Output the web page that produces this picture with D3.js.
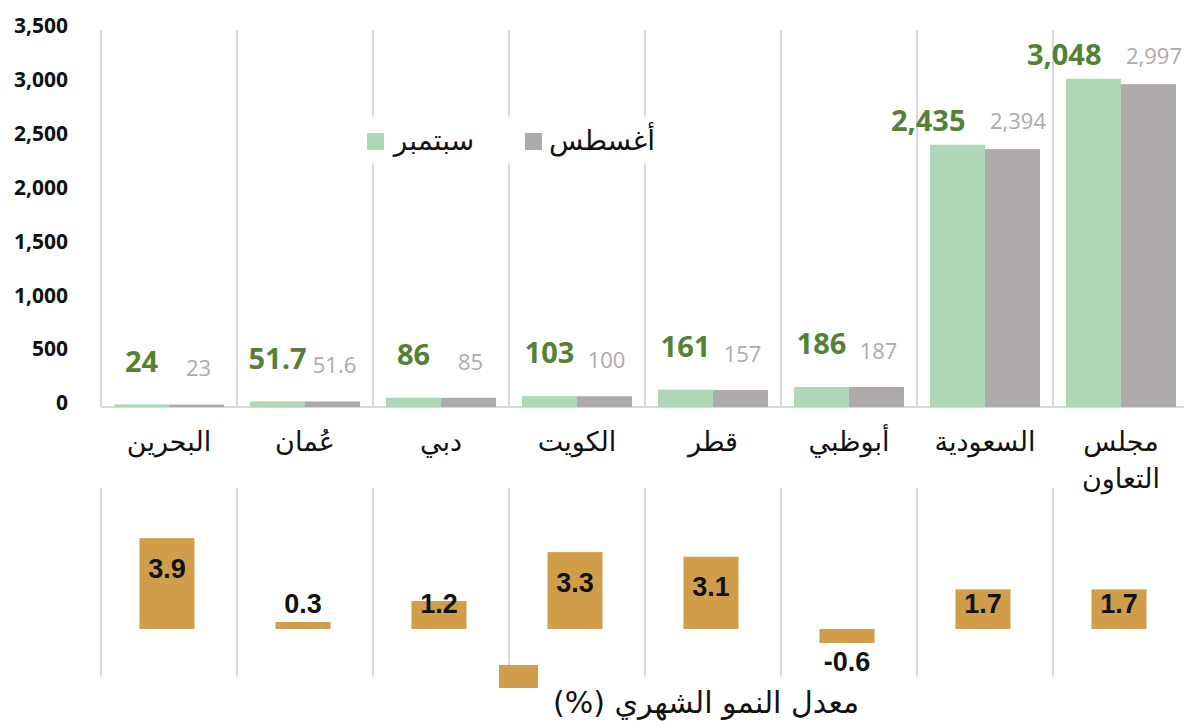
<html>
    <head>
        <meta charset="utf-8">
        <title>GCC chart</title>
        <script src="https://d3js.org/d3.v7.min.js"></script>
    </head>

    <body>
        <svg id="chart" height="721" width="1184"></svg>
        <script>
            // data
            const categories = ["البحرين", "عُمان", "دبي", "الكويت", "قطر", "أبوظبي", "السعودية", "مجلس التعاون"];
            const september = [24, 51.7, 86, 103, 161, 186, 2435, 3048];
            const august = [23, 51.6, 85, 100, 157, 187, 2394, 2997];
            const growth = [3.9, 0.3, 1.2, 3.3, 3.1, -0.6, 1.7, 1.7];
            const yTicks = [0, 500, 1000, 1500, 2000, 2500, 3000, 3500];
            const seriesNames = ["سبتمبر", "أغسطس"];
            const growthTitle = "معدل النمو الشهري (%)";

            const svg = d3.select("#chart");
            const green = "#aed8b8", grey = "#aeaaaa", gold = "#d09e4a";
            const gridColor = "#d9d9d9";
            const arFont = "DejaVu Sans";

            const x = d3.scaleBand().domain(categories).range([101, 1189]);
            const xInner = d3.scaleBand().domain(["sep", "aug"]).range([0, x.bandwidth()])
                            .paddingInner(0).paddingOuter(0.236);
            const y = d3.scaleLinear().domain([0, 3500]).range([407, 30]);
            const y2 = d3.scaleLinear().domain([-1, 4]).range([652.3, 535.8]);

            const fmt = d3.format(",");

            // vertical separators, top chart
            svg.append("g").selectAll("line").data(categories)
                .join("line")
                .attr("x1", d => x(d)).attr("x2", d => x(d))
                .attr("y1", y(3500)).attr("y2", y(0))
                .style("stroke", gridColor).style("stroke-width", 2);

            // baseline
            svg.append("line")
                .attr("x1", x.range()[0]).attr("x2", 1184)
                .attr("y1", y(0)).attr("y2", y(0))
                .style("stroke", gridColor).style("stroke-width", 2);

            // y axis labels
            const yAxis = d3.axisLeft(y).tickValues(yTicks).tickFormat(fmt).tickSize(0).tickPadding(0);
            const yG = svg.append("g").attr("transform", "translate(68,-4)").call(yAxis);
            yG.select(".domain").remove();
            yG.selectAll("text")
                .style("font-family", "Open Sans").style("font-weight", "bold")
                .style("font-size", "21px").style("fill", "#111");

            // bars
            const groups = svg.append("g").selectAll("g").data(categories)
                .join("g").attr("transform", d => `translate(${x(d)},0)`);

            groups.append("rect")
                .attr("x", xInner("sep")).attr("width", xInner.bandwidth())
                .attr("y", (d, i) => y(september[i]))
                .attr("height", (d, i) => y(0) - y(september[i]))
                .style("fill", green);

            groups.append("rect")
                .attr("x", xInner("aug")).attr("width", xInner.bandwidth())
                .attr("y", (d, i) => y(august[i]))
                .attr("height", (d, i) => y(0) - y(august[i]))
                .style("fill", grey);

            // value labels
            groups.append("text")
                .attr("x", (d, i) => september[i] >= 1000 ? xInner("sep") + xInner.bandwidth() / 2 + 8 : xInner("sep") + xInner.bandwidth() / 2)
                .attr("y", (d, i) => y(september[i]) - (september[i] >= 1000 ? 24 : 43))
                .attr("dy", "0.36em")
                .attr("text-anchor", (d, i) => september[i] >= 1000 ? "end" : "middle")
                .style("font-family", "Open Sans").style("font-weight", "bold")
                .style("font-size", "29px").style("fill", "#548235")
                .text((d, i) => fmt(september[i]));

            groups.append("text")
                .attr("x", (d, i) => august[i] >= 1000 ? xInner("aug") + 5 : xInner("aug") + xInner.bandwidth() / 2 + 2)
                .attr("y", (d, i) => y(august[i]) - (august[i] >= 1000 ? 28 : 36))
                .attr("dy", "0.36em")
                .attr("text-anchor", (d, i) => august[i] >= 1000 ? "start" : "middle")
                .style("font-family", "Open Sans")
                .style("font-size", "22px").style("fill", grey)
                .text((d, i) => fmt(august[i]));

            // category labels (wrap the two-word one)
            groups.append("text")
                .attr("x", x.bandwidth() / 2)
                .attr("y", 443)
                .attr("text-anchor", "middle")
                .attr("direction", "rtl")
                .style("font-family", arFont)
                .style("font-size", "27px").style("fill", "#111")
                .each(function(d) {
                    const words = d.split(" ");
                    d3.select(this).selectAll("tspan").data(words)
                        .join("tspan")
                        .attr("x", x.bandwidth() / 2)
                        .attr("dy", (w, j) => j == 0 ? "0.3em" : "1.38em")
                        .text(w => w);
                });

            // legend
            const legend = svg.append("g");
            legend.append("rect").attr("x", 358).attr("y", 116).attr("width", 312).attr("height", 48)
                .style("fill", "white");
            const legendItems = [
                { name: seriesNames[0], color: green, sx: 367, tx: 434 },
                { name: seriesNames[1], color: grey, sx: 525, tx: 602 }
            ];
            legendItems.forEach(item => {
                legend.append("rect").attr("x", item.sx).attr("y", 133).attr("width", 17).attr("height", 17)
                    .style("fill", item.color);
                legend.append("text").attr("x", item.tx).attr("y", 140)
                    .attr("dy", "0.35em").attr("text-anchor", "middle").attr("direction", "rtl")
                    .style("font-family", arFont).style("font-size", "28px").style("fill", "#111")
                    .text(item.name);
            });

            // lower chart separators
            svg.append("g").selectAll("line").data(categories)
                .join("line")
                .attr("x1", d => x(d)).attr("x2", d => x(d))
                .attr("y1", 488).attr("y2", 676)
                .style("stroke", gridColor).style("stroke-width", 2);

            const lower = svg.append("g").selectAll("g").data(categories)
                .join("g").attr("transform", d => `translate(${x(d)},0)`);

            const gw = xInner.bandwidth();
            lower.append("rect")
                .attr("x", x.bandwidth() / 2 - gw / 2 - 2).attr("width", gw)
                .attr("y", (d, i) => y2(Math.max(0, growth[i])))
                .attr("height", (d, i) => Math.abs(y2(growth[i]) - y2(0)))
                .style("fill", gold);

            lower.append("text")
                .attr("x", x.bandwidth() / 2 - 2)
                .attr("y", (d, i) => growth[i] < 0 ? y2(growth[i]) + 18 : Math.min(y2(growth[i]) + 30, 603))
                .attr("dy", "0.36em")
                .attr("text-anchor", "middle")
                .style("font-family", "Liberation Sans").style("font-weight", "bold")
                .style("font-size", "27px").style("fill", "#111")
                .text((d, i) => growth[i].toFixed(1));

            // lower legend
            svg.append("rect").attr("x", 499).attr("y", 665).attr("width", 39).attr("height", 23)
                .style("fill", gold);
            svg.append("text").attr("x", 706).attr("y", 702)
                .attr("dy", "0.35em").attr("text-anchor", "middle").attr("direction", "rtl")
                .style("font-family", arFont).style("font-size", "30px").style("fill", "#111")
                .text(growthTitle);
        </script>
    </body>
</html>

<style>
    body { margin: 0; background: white; }
    svg { display: block; }
</style>
